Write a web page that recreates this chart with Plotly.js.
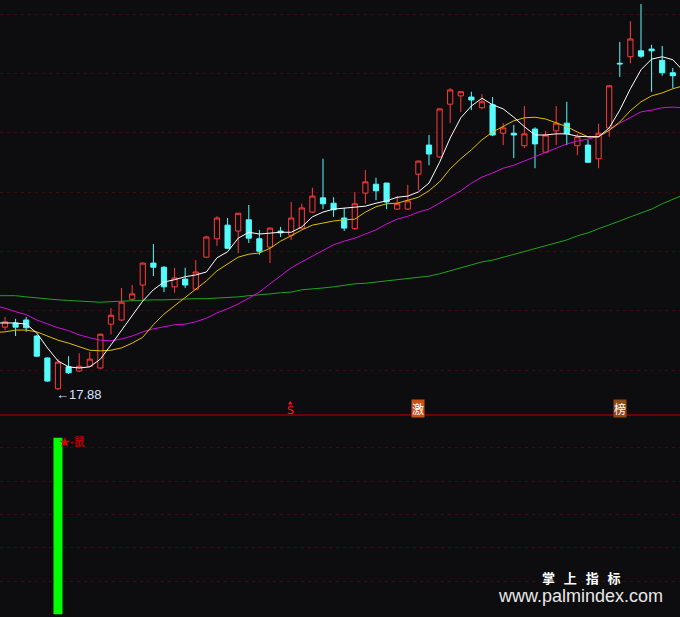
<!DOCTYPE html>
<html>
<head>
<meta charset="utf-8">
<script src="https://cdn.plot.ly/plotly-3.0.1.min.js"></script>
<style>
  html, body { margin: 0; padding: 0; background: #0d0d10; }
  #chart { width: 680px; height: 617px; }
</style>
</head>
<body>
<div id="chart"></div>
<script>
// ---- Candles ----
const open  = [18.94,19.01,19.06,18.79,18.42,17.90,18.27,18.20,18.28,18.25,
               18.99,19.06,19.41,19.65,20.02,19.95,19.62,19.75,19.58,20.12,
               20.43,20.66,20.56,20.75,20.43,20.29,20.56,20.49,20.61,20.88,
               21.12,21.03,20.78,20.60,21.20,21.35,21.37,20.93,20.93,21.52,
               22.01,21.81,22.70,22.84,22.82,22.64,22.69,22.21,22.21,22.00,
               22.28,21.89,22.25,22.38,22.00,22.01,21.78,22.30,23.39,23.50,
               23.60,23.63,23.44,23.23];
const high  = [19.11,19.08,19.11,18.81,18.43,18.40,18.45,18.50,18.52,18.83,
               19.26,19.60,19.65,20.03,20.34,19.97,19.94,19.94,20.07,20.48,
               20.81,20.78,20.87,21.00,20.58,20.62,20.63,21.05,21.02,21.29,
               21.78,21.13,20.95,21.22,21.59,21.46,21.37,21.15,21.34,21.75,
               22.18,22.63,22.97,22.92,22.91,22.87,22.82,22.38,22.35,22.67,
               22.31,22.25,22.67,22.74,22.20,22.10,22.37,23.02,23.75,24.10,
               24.39,23.70,23.68,23.31];
const low   = [18.89,18.79,18.86,18.44,18.02,17.88,18.15,18.18,18.27,18.24,
               18.82,19.04,19.38,19.40,19.80,19.53,19.52,19.60,19.57,20.11,
               20.31,20.26,20.19,20.36,20.16,20.02,20.46,20.41,20.60,20.86,
               20.93,20.80,20.56,20.58,21.02,21.08,20.93,20.92,20.92,21.25,
               21.67,21.80,22.38,22.57,22.60,22.62,22.16,22.01,21.79,21.96,
               21.62,21.88,22.01,22.01,21.84,21.71,21.62,22.15,23.16,23.39,
               23.48,22.91,23.18,22.97];
const close = [19.03,18.94,18.93,18.45,18.03,18.35,18.17,18.28,18.40,18.82,
               19.14,19.36,19.50,20.02,19.95,19.62,19.77,19.65,19.87,20.46,
               20.78,20.27,20.86,20.44,20.22,20.61,20.53,20.78,20.95,21.15,
               21.02,20.92,20.61,21.02,21.39,21.24,21.05,21.02,21.07,21.74,
               21.86,22.62,22.94,22.91,22.77,22.74,22.18,22.30,22.18,22.20,
               22.03,22.18,22.38,22.20,22.15,21.72,22.21,23.01,23.38,23.80,
               23.51,23.60,23.23,23.18];

// ---- Moving-average lines (first and last points lie
//      just outside the visible candles, at the chart edges) ----
const lineX = [-1,0,1,2,3,4,5,6,7,8,9,10,11,12,13,14,15,16,17,18,19,20,21,22,23,24,25,26,27,28,29,
               30,31,32,33,34,35,36,37,38,39,40,41,42,43,44,45,46,47,48,49,50,51,52,53,54,55,56,57,58,59,
               60,61,62,63,64];
const maWhite = [19.01,
                 19.01,19.01,18.99,18.84,18.59,18.37,18.27,18.25,18.27,18.40,
                 18.64,18.89,19.13,19.38,19.57,19.70,19.74,19.79,19.82,19.87,
                 20.11,20.21,20.44,20.54,20.51,20.53,20.54,20.54,20.63,20.80,
                 20.88,20.93,20.95,20.97,20.98,21.03,21.07,21.13,21.15,21.22,
                 21.37,21.72,22.13,22.47,22.67,22.80,22.69,22.62,22.48,22.32,
                 22.18,22.18,22.20,22.20,22.16,22.15,22.15,22.30,22.60,22.96,
                 23.28,23.46,23.50,23.45,23.26];
const maYellow = [18.85,
                  18.86,18.89,18.89,18.86,18.79,18.72,18.67,18.61,18.55,18.54,
                  18.55,18.59,18.67,18.77,18.98,19.16,19.30,19.43,19.57,19.72,
                  19.89,20.00,20.12,20.17,20.19,20.27,20.39,20.48,20.58,20.66,
                  20.70,20.73,20.75,20.76,20.88,20.97,21.02,21.03,21.08,21.13,
                  21.24,21.39,21.61,21.78,21.93,22.10,22.23,22.33,22.42,22.47,
                  22.48,22.45,22.38,22.32,22.23,22.15,22.15,22.26,22.40,22.59,
                  22.74,22.84,22.89,22.96,23.01];
const maMagenta = [19.30,
                   19.26,19.20,19.15,19.06,18.99,18.93,18.88,18.81,18.76,18.72,
                   18.71,18.74,18.79,18.86,18.91,18.94,18.98,18.99,19.03,19.09,
                   19.18,19.25,19.33,19.43,19.53,19.67,19.80,19.94,20.04,20.14,
                   20.24,20.33,20.39,20.44,20.51,20.58,20.68,20.76,20.81,20.88,
                   20.93,21.03,21.13,21.24,21.37,21.47,21.54,21.62,21.67,21.74,
                   21.81,21.88,21.96,22.03,22.08,22.11,22.16,22.26,22.38,22.48,
                   22.57,22.60,22.64,22.65,22.64];
const maGreen = [19.47,
                 19.47,19.47,19.45,19.43,19.42,19.40,19.39,19.38,19.36,19.36,
                 19.37,19.38,19.38,19.39,19.40,19.40,19.41,19.42,19.42,19.42,
                 19.43,19.43,19.45,19.47,19.48,19.50,19.52,19.53,19.57,19.58,
                 19.60,19.62,19.65,19.67,19.68,19.70,19.72,19.74,19.75,19.77,
                 19.80,19.84,19.89,19.94,19.99,20.04,20.07,20.12,20.17,20.21,
                 20.26,20.31,20.36,20.41,20.48,20.53,20.60,20.66,20.73,20.80,
                 20.86,20.93,21.02,21.10,21.17];

// ---- Lower panel signal bar ----
const signalIndex = [5];
const signalValue = [106];

// ---- Labels ----
const lowLabel = "←17.88";
const lowIndex = 5;
const lowPrice = 17.88;
const marks = [
  {i: 27, text: "S"},
  {i: 39, text: "激"},
  {i: 58, text: "榜"}
];
const signalLabel = "★-鼠";

const xs = open.map((_, i) => i);
const BG = "#0d0d10";
const GRID = "#400a0a";
const SPLIT = 1 - 415 / 617;

const traces = [
  {
    type: "candlestick", x: xs, open: open, high: high, low: low, close: close,
    increasing: {line: {color: "#ff3b3b", width: 1}, fillcolor: BG},
    decreasing: {line: {color: "#54fcfc", width: 1}, fillcolor: "#54fcfc"},
    whiskerwidth: 0, hoverinfo: "skip", showlegend: false
  },
  {type: "scatter", mode: "lines", x: lineX, y: maGreen, line: {color: "#1fa51f", width: 1}, hoverinfo: "skip", showlegend: false},
  {type: "scatter", mode: "lines", x: lineX, y: maMagenta, line: {color: "#d010d8", width: 1}, hoverinfo: "skip", showlegend: false},
  {type: "scatter", mode: "lines", x: lineX, y: maYellow, line: {color: "#e0c000", width: 1}, hoverinfo: "skip", showlegend: false},
  {type: "scatter", mode: "lines", x: lineX, y: maWhite, line: {color: "#ffffff", width: 1}, hoverinfo: "skip", showlegend: false},
  {type: "bar", x: signalIndex, y: signalValue, width: 0.85, yaxis: "y2",
   marker: {color: "#00ff00", line: {width: 0}}, hoverinfo: "skip", showlegend: false}
];

const annotations = [
  {x: lowIndex, y: lowPrice, xref: "x", yref: "y", text: lowLabel, showarrow: false,
   xanchor: "left", yanchor: "middle", xshift: -4, yshift: -5,
   font: {family: "Liberation Sans, Arial, sans-serif", size: 13, color: "#d6e2ff"}},
  {x: marks[0].i, y: 1 - 410 / 617, xref: "x", yref: "paper", text: marks[0].text, showarrow: false,
   xanchor: "center", yanchor: "middle", xshift: -1,
   font: {family: "DejaVu Sans, sans-serif", size: 11, color: "#ff1a1a"}},
  {x: marks[0].i, y: 1 - 402 / 617, xref: "x", yref: "paper", text: "▲", showarrow: false,
   xanchor: "center", yanchor: "middle", xshift: -1,
   font: {family: "DejaVu Sans, sans-serif", size: 5, color: "#ff1a1a"}},
  {x: marks[1].i, y: 1 - 408 / 617, xref: "x", yref: "paper", text: marks[1].text, showarrow: false,
   xanchor: "center", yanchor: "middle", bgcolor: "#c4521c", borderpad: 0,
   font: {family: "Noto Sans CJK SC, sans-serif", size: 12, color: "#ffffff"}},
  {x: marks[2].i, y: 1 - 408 / 617, xref: "x", yref: "paper", text: marks[2].text, showarrow: false,
   xanchor: "center", yanchor: "middle", bgcolor: "#8c4a18", borderpad: 0,
   font: {family: "Noto Sans CJK SC, sans-serif", size: 12, color: "#ffffff"}},
  {x: signalIndex[0], y: 1 - 441 / 617, xref: "x", yref: "paper", text: signalLabel, showarrow: false,
   xanchor: "left", yanchor: "middle", xshift: -1,
   font: {family: "Noto Sans CJK SC, sans-serif", size: 11, color: "#e00000"}},
  {x: 581 / 680, y: 1 - 577 / 617, xref: "paper", yref: "paper",
   text: "<b>掌&nbsp;&nbsp;&nbsp;上&nbsp;&nbsp;&nbsp;指&nbsp;&nbsp;&nbsp;标</b>", showarrow: false,
   xanchor: "center", yanchor: "middle",
   font: {family: "Noto Sans CJK SC, sans-serif", size: 13, color: "#ffffff"}},
  {x: 580 / 680, y: 1 - 596 / 617, xref: "paper", yref: "paper", text: "www.palmindex.com", showarrow: false,
   xanchor: "center", yanchor: "middle",
   font: {family: "Liberation Sans, Arial, sans-serif", size: 18, color: "#e8e8e8"}}
];

const layout = {
  width: 680, height: 617,
  margin: {l: 0, r: 0, t: 0, b: 0, pad: 0},
  paper_bgcolor: BG, plot_bgcolor: BG,
  showlegend: false,
  xaxis: {range: [-0.47, 63.68], showgrid: false, zeroline: false, showticklabels: false,
          showline: false, ticks: "", rangeslider: {visible: false}, fixedrange: true},
  yaxis: {domain: [SPLIT, 1], range: [17.458, 24.457], tick0: 18.217, dtick: 1,
          showgrid: true, gridcolor: GRID, gridwidth: 1, griddash: "3px,4px",
          zeroline: false, showticklabels: false, ticks: "", showline: false, fixedrange: true},
  yaxis2: {domain: [0, SPLIT], range: [-1.6, 119.6], tickmode: "array", tickvals: [20, 40, 60, 80, 100],
           showgrid: true, gridcolor: GRID, gridwidth: 1, griddash: "3px,4px",
           zeroline: false, showticklabels: false, ticks: "", showline: false, fixedrange: true},
  shapes: [
    {type: "line", xref: "paper", yref: "paper", x0: 0, x1: 1, y0: SPLIT, y1: SPLIT,
     line: {color: "#6e0000", width: 2}}
  ],
  annotations: annotations
};

Plotly.newPlot("chart", traces, layout, {staticPlot: true, displayModeBar: false});
</script>
</body>
</html>
